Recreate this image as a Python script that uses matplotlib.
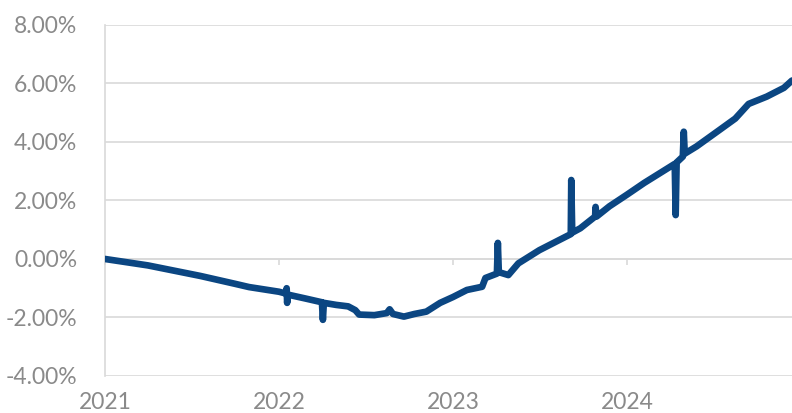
import matplotlib.pyplot as plt
import matplotlib.dates as mdates
import pandas as pd

plt.rcParams['font.family'] = ['Lato', 'DejaVu Sans']

# fecha / valor (%), incluye los picos puntuales
fechas = [
    '2021-01-01', '2021-04-01', '2021-07-20', '2021-10-01', '2021-10-30',
    '2022-01-01', '2022-01-15', '2022-01-17', '2022-01-18', '2022-01-20',
    '2022-02-25', '2022-04-01', '2022-04-03', '2022-04-05', '2022-05-01',
    '2022-05-26', '2022-06-10', '2022-06-18', '2022-07-20', '2022-08-15',
    '2022-08-21', '2022-08-28', '2022-09-20', '2022-10-12', '2022-11-06',
    '2022-12-05', '2023-01-01', '2023-01-30', '2023-03-03', '2023-03-10',
    '2023-04-03', '2023-04-05', '2023-04-07', '2023-04-27', '2023-05-18',
    '2023-07-01', '2023-08-18', '2023-09-05', '2023-09-06', '2023-09-08',
    '2023-09-25', '2023-10-26', '2023-10-27', '2023-10-29', '2023-11-25',
    '2024-01-01', '2024-02-06', '2024-04-10', '2024-04-12', '2024-04-14',
    '2024-04-27', '2024-04-29', '2024-05-01', '2024-05-26', '2024-07-12',
    '2024-08-15', '2024-09-12', '2024-10-20', '2024-11-25', '2024-12-12',
]
valores = [
    0.00, -0.22, -0.58, -0.85, -0.96,
    -1.12, -1.18, -1.00, -1.50, -1.22,
    -1.35, -1.48, -2.08, -1.50, -1.57,
    -1.62, -1.75, -1.90, -1.92, -1.85,
    -1.72, -1.88, -1.97, -1.88, -1.80,
    -1.50, -1.30, -1.06, -0.95, -0.65,
    -0.50, 0.55, -0.45, -0.55, -0.15,
    0.30, 0.70, 0.85, 2.70, 0.90,
    1.05, 1.45, 1.78, 1.45, 1.80,
    2.20, 2.60, 3.25, 1.50, 3.30,
    3.50, 4.35, 3.60, 3.85, 4.40,
    4.80, 5.30, 5.55, 5.85, 6.10,
]
anios = [2021, 2022, 2023, 2024]
yticks = [-4, -2, 0, 2, 4, 6, 8]

df = pd.DataFrame({'fecha': pd.to_datetime(fechas), 'valor': valores})

fig = plt.figure(figsize=(7.92, 4.13), dpi=100)
ax = fig.add_axes([0.1326, 0.0896, 0.8674, 0.85])

ax.plot(df['fecha'], df['valor'], color='#0b4682', linewidth=4.8,
        solid_capstyle='round', solid_joinstyle='round', zorder=3)

ax.set_ylim(-4, 8)
ax.set_xlim(pd.Timestamp('2021-01-01'), df['fecha'].iloc[-1])
ax.set_yticks(yticks)
ax.set_yticklabels([f'{v:.2f}%' for v in yticks])
ax.yaxis.grid(True, color='#d9d9d9', linewidth=1.2)
ax.set_axisbelow(True)

ax.spines['top'].set_visible(False)
ax.spines['right'].set_visible(False)
ax.spines['left'].set_color('#d9d9d9')
ax.spines['left'].set_linewidth(1.2)
ax.spines['bottom'].set_position(('data', 0))
ax.spines['bottom'].set_color('#d9d9d9')
ax.spines['bottom'].set_linewidth(1.2)

ticks_x = [pd.Timestamp(f'{a}-01-01') for a in anios]
ax.set_xticks(ticks_x)
ax.set_xticklabels([])
ax.tick_params(axis='x', length=4, width=1.2, color='#d9d9d9')
ax.tick_params(axis='y', length=0, pad=20, labelsize=16.5, labelcolor='#8a8a8a')

for t, a in zip(ticks_x, anios):
    ax.text(mdates.date2num(t), -0.045, str(a), transform=ax.get_xaxis_transform(),
            ha='center', va='top', fontsize=16.5, color='#8a8a8a')

plt.savefig('out.png', dpi=100)
